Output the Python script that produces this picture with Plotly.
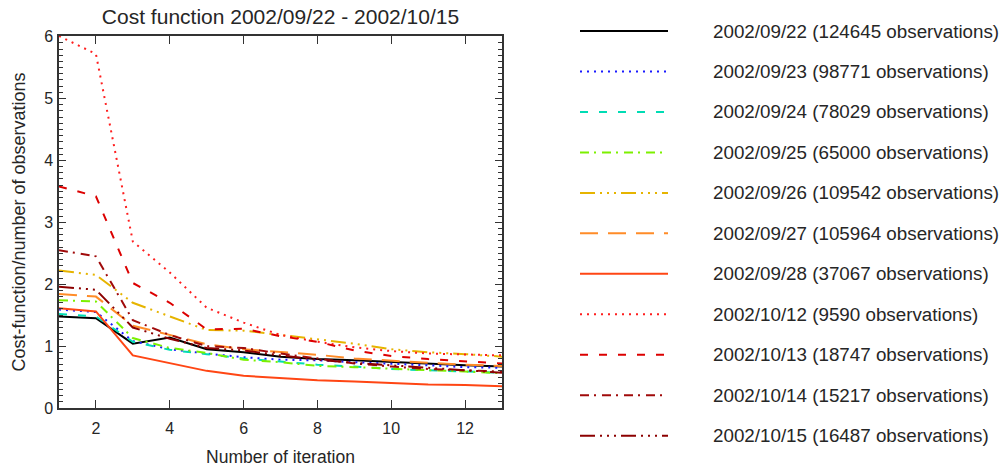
import plotly.graph_objects as go

# Iteration numbers of the minimisation
iterations = list(range(1, 14))

# Analysis dates and number of assimilated observations
dates = ["2002/09/22", "2002/09/23", "2002/09/24", "2002/09/25", "2002/09/26",
         "2002/09/27", "2002/09/28", "2002/10/12", "2002/10/13", "2002/10/14",
         "2002/10/15"]
n_obs = [124645, 98771, 78029, 65000, 109542, 105964, 37067, 9590, 18747,
         15217, 16487]

# Cost function normalised by the number of observations, per iteration
cost_0922 = [1.48, 1.45, 1.04, 1.14, 0.95, 0.90, 0.83, 0.79, 0.77, 0.74, 0.71, 0.69, 0.67]
cost_0923 = [1.59, 1.55, 1.08, 0.95, 0.88, 0.82, 0.78, 0.77, 0.74, 0.72, 0.69, 0.66, 0.65]
cost_0924 = [1.52, 1.48, 1.07, 0.94, 0.87, 0.80, 0.75, 0.70, 0.67, 0.63, 0.61, 0.59, 0.57]
cost_0925 = [1.74, 1.72, 1.13, 0.97, 0.89, 0.78, 0.74, 0.68, 0.66, 0.63, 0.61, 0.59, 0.56]
cost_0926 = [2.22, 2.15, 1.70, 1.48, 1.26, 1.25, 1.18, 1.12, 1.04, 0.95, 0.90, 0.87, 0.83]
cost_0927 = [1.84, 1.80, 1.33, 1.18, 1.03, 0.95, 0.91, 0.86, 0.80, 0.76, 0.73, 0.70, 0.68]
cost_0928 = [1.61, 1.56, 0.85, 0.73, 0.60, 0.52, 0.48, 0.45, 0.43, 0.40, 0.38, 0.37, 0.35]
cost_1012 = [6.01, 5.72, 2.69, 2.19, 1.62, 1.38, 1.18, 1.07, 0.98, 0.92, 0.88, 0.86, 0.85]
cost_1013 = [3.58, 3.42, 2.02, 1.70, 1.27, 1.28, 1.16, 1.07, 0.93, 0.84, 0.79, 0.75, 0.72]
cost_1014 = [2.55, 2.45, 1.42, 1.18, 1.00, 0.97, 0.88, 0.80, 0.72, 0.67, 0.63, 0.61, 0.59]
cost_1015 = [1.96, 1.91, 1.30, 1.12, 0.97, 0.93, 0.85, 0.78, 0.73, 0.69, 0.64, 0.60, 0.57]

series = [cost_0922, cost_0923, cost_0924, cost_0925, cost_0926, cost_0927,
          cost_0928, cost_1012, cost_1013, cost_1014, cost_1015]

DOT = "2px,5px"
DASH = "8px,11px"
LONGDASH = "18px,10px"
DASHDOT = "9px,5px,2px,6px"
DASH3DOT = "15px,5px,2px,5px,2px,5px,2px,5px"

styles = [
    ("#000000", "solid"),
    ("#1a1aff", DOT),
    ("#00dcb4", DASH),
    ("#7cf000", DASHDOT),
    ("#e6b400", DASH3DOT),
    ("#ff8c28", LONGDASH),
    ("#ff4614", "solid"),
    ("#ff1e1e", DOT),
    ("#dc0000", DASH),
    ("#a00a0a", DASHDOT),
    ("#8c0000", DASH3DOT),
]

W, H = 1005, 468
ML, MR, MT, MB = 59, 503, 36, 60
PW, PH = W - ML - MR, H - MT - MB

FONT = "Liberation Sans, Arial, Helvetica, sans-serif"
TEXT = "#262626"
AXIS = "#333333"

fig = go.Figure()
for d, n, vals, (col, dash) in zip(dates, n_obs, series, styles):
    fig.add_trace(go.Scatter(
        x=iterations, y=vals, mode="lines",
        name=f"{d} ({n} observations)",
        line=dict(color=col, width=2, dash=dash),
        showlegend=False,
    ))

# Hand-drawn key on the right: long line samples with labels
def px_to_paper_x(px):
    return (px - ML) / PW

def px_to_paper_y(py):
    return (H - MB - py) / PH

row0, row_step = 31.0, 40.47
for i, (d, n, (col, dash)) in enumerate(zip(dates, n_obs, styles)):
    py = row0 + i * row_step
    yp = px_to_paper_y(py)
    fig.add_shape(type="line", xref="paper", yref="paper",
                  x0=px_to_paper_x(580), x1=px_to_paper_x(668), y0=yp, y1=yp,
                  line=dict(color=col, width=2, dash=dash))
    fig.add_annotation(xref="paper", yref="paper",
                       x=px_to_paper_x(711), y=yp, xanchor="left", yanchor="middle",
                       text=f"{d} ({n} observations)", showarrow=False,
                       font=dict(family=FONT, size=18.8, color=TEXT))

axis_common = dict(
    showgrid=False, zeroline=False, showline=True, linecolor=AXIS, linewidth=1.5,
    mirror="allticks", ticks="inside", tickcolor=AXIS, tickwidth=1.3,
    tickfont=dict(family=FONT, size=16, color=TEXT), automargin=False,
)

fig.update_layout(
    width=W, height=H,
    margin=dict(l=ML, r=MR, t=MT, b=MB, autoexpand=False),
    paper_bgcolor="white", plot_bgcolor="white",
    title=dict(text="Cost function 2002/09/22 - 2002/10/15",
               x=0.5, xref="paper", xanchor="center",
               y=1 - 17 / H, yref="container", yanchor="middle",
               font=dict(family=FONT, size=21, color=TEXT)),
    xaxis=dict(range=[1, 13], tick0=0, dtick=2, ticklen=8, ticklabelstandoff=5,
               title=dict(text="Number of iteration", standoff=15,
                          font=dict(family=FONT, size=17.5, color=TEXT)),
               **axis_common),
    yaxis=dict(range=[0, 6.01], tick0=0, dtick=1, ticklen=7, ticklabelstandoff=1,
               minor=dict(dtick=0.1, tick0=0, ticklen=4.5, ticks="inside",
                          tickcolor=AXIS, tickwidth=1.3, showgrid=False),
               title=dict(text="Cost-function/number of observations", standoff=14,
                          font=dict(family=FONT, size=18, color=TEXT)),
               **axis_common),
)

fig.write_html("out.html")
